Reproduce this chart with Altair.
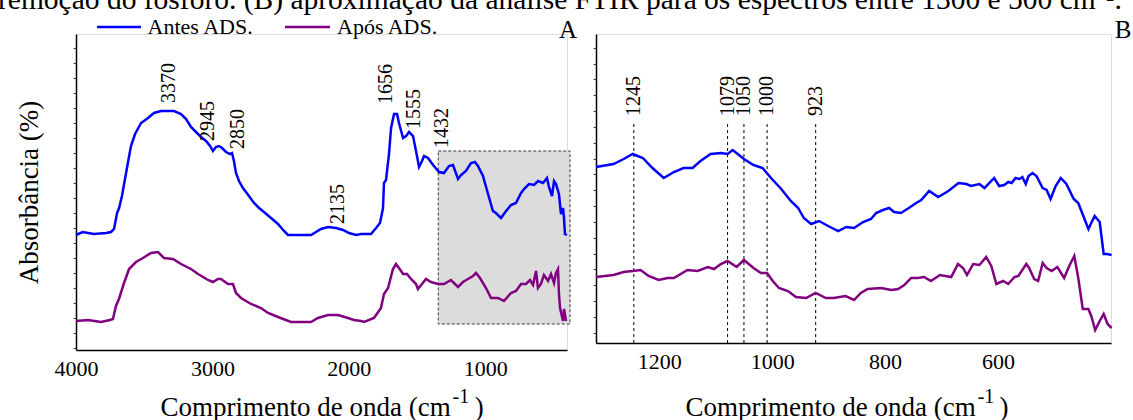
import altair as alt
import pandas as pd

FONT = "Liberation Serif"
BLUE = "#0000ff"
PURPLE = "#800080"
SERIES = ["Antes ADS.", "Após ADS."]
COLORS = [BLUE, PURPLE]

# ---------------- Panel A (4000-400 cm-1) ----------------
a_wn_antes = [4000, 3951, 3868, 3780, 3743, 3721, 3699, 3684, 3663, 3633, 3597, 3567, 3523, 3472,
              3428, 3377, 3281, 3230, 3193, 3157, 3120, 3083, 3047, 3017, 2996, 2974, 2951, 2929,
              2900, 2871, 2856, 2842, 2827, 2805, 2776, 2732, 2695, 2658, 2622, 2570, 2519, 2475,
              2446, 2350, 2277, 2240, 2204, 2152, 2094, 2042, 1998, 1947, 1910, 1837, 1800, 1771,
              1749, 1742, 1727, 1705, 1690, 1668, 1646, 1632, 1602, 1580, 1558, 1529, 1507, 1485,
              1470, 1448, 1419, 1382, 1338, 1302, 1265, 1236, 1199, 1177, 1141, 1104, 1075, 1053,
              1016, 979, 943, 921, 884, 847, 811, 774, 737, 715, 679, 642, 613, 576, 547, 532, 510,
              495, 481, 459, 444, 429, 422, 415, 400]
a_abs_antes = [115, 118, 116, 117, 118, 121, 137, 142, 154, 177, 204, 216, 227, 232,
               237, 239, 239, 236, 231, 223, 218, 213, 209, 204, 199, 203, 204, 202,
               198, 196, 197, 189, 177, 169, 162, 154, 147, 142, 138, 132, 126, 119,
               115, 115, 115, 118, 121, 123, 122, 120, 117, 115, 116, 116, 122, 127,
               142, 167, 170, 196, 222, 236, 236, 227, 212, 214, 218, 214, 199, 183,
               187, 194, 192, 185, 178, 177, 184, 185, 171, 175, 179, 187, 188, 184,
               174, 156, 139, 137, 132, 139, 145, 147, 157, 161, 166, 165, 169, 167, 172, 163, 154,
               169, 166, 156, 136, 142, 132, 116, 115]

a_wn_apos = [4000, 3912, 3817, 3751, 3729, 3707, 3685, 3648, 3611, 3560, 3509, 3450, 3399, 3355,
             3289, 3230, 3157, 3105, 3032, 2996, 2959, 2937, 2886, 2849, 2827, 2790, 2717, 2644,
             2592, 2519, 2424, 2277, 2226, 2152, 2079, 2006, 1962, 1910, 1888, 1815, 1764, 1742,
             1712, 1676, 1654, 1632, 1602, 1573, 1544, 1507, 1493, 1463, 1434, 1397, 1346, 1302,
             1251, 1199, 1163, 1126, 1089, 1067, 1038, 994, 957, 906, 862, 811, 774, 737, 701,
             671, 649, 627, 613, 591, 569, 539, 517, 495, 481, 466, 459, 451, 429, 422, 407]
a_abs_apos = [29, 30, 28, 30, 31, 44, 51, 67, 81, 88, 92, 97, 98, 92,
              91, 86, 81, 76, 70, 68, 71, 71, 66, 66, 57, 52, 46, 42,
              37, 33, 28, 28, 32, 35, 35, 32, 30, 29, 28, 32, 42, 56,
              62, 81, 86, 82, 76, 76, 71, 66, 61, 66, 71, 68, 66, 66,
              70, 63, 68, 71, 74, 77, 72, 62, 52, 52, 49, 57, 59, 66, 66,
              70, 65, 79, 62, 66, 75, 69, 76, 67, 77, 81, 56, 42, 29, 41, 29]

a_peak_text = ["3370", "2945", "2850", "2135", "1656", "1555", "1432"]
a_peak_wn = [3318, 3032, 2812, 2079, 1727, 1522, 1317]
a_peak_abs = [247, 209, 201, 126, 246, 221, 202]

a_box = {"x1": [1344], "x2": [378], "y1": [26], "y2": [199]}
a_xticks = [4000, 3000, 2000, 1000]

# ---------------- Panel B (1312-400 cm-1) ----------------
b_wn_antes = [1312, 1281, 1263, 1247, 1229, 1212, 1192, 1174, 1157, 1141, 1127, 1109, 1091, 1079,
              1070, 1061, 1050, 1033, 1017, 1002, 984, 967, 954, 944, 931, 917, 901, 883, 869, 855,
              839, 825, 816, 804, 793, 784, 772, 758, 745, 736, 722, 706, 688, 670, 656, 648, 633,
              624, 607, 598, 589, 582, 576, 569, 562, 557, 551, 546, 539, 532, 521, 514, 507, 498,
              489, 479, 466, 458, 449, 440, 435, 429, 420, 413, 407, 399]
b_abs_antes = [176, 179, 184, 189, 185, 175, 165, 171, 175, 175, 182, 189, 190, 189,
               193, 189, 184, 178, 175, 165, 154, 142, 135, 125, 119, 122, 117, 112, 116, 115,
               121, 124, 130, 133, 135, 131, 130, 135, 140, 143, 152, 146, 152, 160, 159, 157, 159,
               155, 165, 157, 158, 161, 160, 165, 164, 166, 159, 167, 170, 167, 155, 153, 144, 157,
               165, 159, 144, 140, 127, 114, 120, 127, 121, 89, 89, 88]

b_wn_apos = [1312, 1281, 1263, 1247, 1233, 1219, 1201, 1185, 1174, 1162, 1150, 1132, 1114, 1103,
             1091, 1079, 1063, 1050, 1033, 1020, 1009, 999, 988, 972, 958, 940, 923, 905, 891, 870,
             855, 843, 831, 807, 789, 777, 766, 754, 742, 731, 719, 703, 683, 671, 662, 655, 644,
             633, 621, 612, 603, 591, 582, 571, 564, 550, 545, 536, 529, 521, 514, 505, 495, 483,
             474, 465, 458, 450, 440, 435, 428, 420, 413, 406, 399]
b_abs_apos = [66, 68, 71, 72, 73, 67, 63, 65, 65, 69, 73, 72, 76, 74,
              79, 82, 76, 83, 75, 70, 70, 62, 55, 52, 46, 45, 50, 45, 45, 47,
              43, 50, 54, 55, 53, 54, 58, 65, 65, 66, 62, 68, 66, 79, 75, 68, 79,
              78, 86, 77, 59, 62, 59, 66, 67, 79, 75, 64, 62, 80, 75, 72, 76, 65,
              77, 87, 65, 34, 34, 27, 13, 22, 29, 19, 15]

b_mark_text = ["1245", "1079", "1050", "1000", "923"]
b_mark_wn = [1245, 1079, 1050, 1009, 923]
b_xticks = [1200, 1000, 800, 600]

WA, HA = 491, 316
WB, HB = 515, 309


def series_frame(wn, ab, name):
    return pd.DataFrame({"wn": wn, "abs": ab, "serie": name})


dfA = pd.concat([series_frame(a_wn_antes, a_abs_antes, SERIES[0]),
                 series_frame(a_wn_apos, a_abs_apos, SERIES[1])])
dfB = pd.concat([series_frame(b_wn_antes, b_abs_antes, SERIES[0]),
                 series_frame(b_wn_apos, b_abs_apos, SERIES[1])])

color = alt.Color("serie:N", scale=alt.Scale(domain=SERIES, range=COLORS), legend=None)
one = pd.DataFrame({"k": [0]})


def x_axis(vals):
    return alt.Axis(values=vals, title=None, format="d", labelFont=FONT, labelFontSize=22,
                    labelColor="black", ticks=False, labelPadding=8, labelFlush=False,
                    domainColor="black", domainWidth=1.5, grid=False)


def y_axis(vals, title):
    kw = dict(values=vals, labels=False, ticks=True, tickSize=3, tickColor="#444", tickWidth=1,
              domainColor="black", domainWidth=1.5, grid=False)
    if title:
        kw.update(title=title, titleFont=FONT, titleFontSize=27, titleFontWeight="normal",
                  titleColor="black", titlePadding=29)
    else:
        kw.update(title=None)
    return alt.Axis(**kw)


# ---- panel A encodings ----
sxA = alt.Scale(domain=[4000, 400], nice=False, zero=False)
syA = alt.Scale(domain=[0, HA], nice=False, zero=False)
axA = x_axis(a_xticks)
ayA = y_axis(list(range(2, HA, 15)), "Absorbância (%)")


def XA(f):
    return alt.X(f, type="quantitative", scale=sxA, axis=axA)


def YA(f):
    return alt.Y(f, type="quantitative", scale=syA, axis=ayA)


boxA = alt.Chart(pd.DataFrame(a_box)).mark_rect(
    fill="#dcdcdc", stroke="#3a3a3a", strokeDash=[3, 2], strokeWidth=1
).encode(x=XA("x1"), x2="x2", y=YA("y1"), y2="y2")

linesA = alt.Chart(dfA).mark_line(strokeWidth=2.5).encode(
    x=XA("wn"), y=YA("abs"), color=color, detail="serie:N")

peaksA = alt.Chart(pd.DataFrame({"wn": a_peak_wn, "abs": a_peak_abs, "t": a_peak_text})).mark_text(
    angle=270, align="left", baseline="middle", font=FONT, fontSize=20, color="black"
).encode(x=XA("wn"), y=YA("abs"), text="t:N")


def txt(s, x, y, size, align="left", col="black", baseline="alphabetic"):
    return alt.Chart(one).mark_text(text=s, align=align, baseline=baseline, font=FONT,
                                    fontSize=size, color=col).encode(
        x=alt.value(x), y=alt.value(y))


def leg_rule(x1, x2, y, col):
    return alt.Chart(one).mark_rule(color=col, strokeWidth=2.5).encode(
        x=alt.value(x1), x2=alt.value(x2), y=alt.value(y))


caption = txt("remoção do fósforo. (B) aproximação da análise FTIR para os espectros entre 1300 e 500 cm⁻¹.",
              -78, -25, 29.5)

legendA = [
    leg_rule(21, 65, -7, BLUE), txt(SERIES[0], 71.6, -0.5, 22),
    leg_rule(209, 254, -7, PURPLE), txt(SERIES[1], 261, -0.5, 22),
]

titleA = [
    txt("Comprimento de onda (cm", 374.7, 382, 27, align="right"),
    txt("-1", 376.5, 369, 20),
    txt(")", 398.8, 382, 27),
]

panelA = alt.layer(
    boxA, linesA, peaksA, caption, *legendA, txt("A", 492, 4, 25, align="center"), *titleA
).properties(width=WA, height=HA)

# ---- panel B encodings ----
sxB = alt.Scale(domain=[1312, 400], nice=False, zero=False)
syB = alt.Scale(domain=[0, HB], nice=False, zero=False)
axB = x_axis(b_xticks)
ayB = y_axis([round(10.3 + 15.83 * k, 1) for k in range(19)], None)


def XB(f):
    return alt.X(f, type="quantitative", scale=sxB, axis=axB)


def YB(f):
    return alt.Y(f, type="quantitative", scale=syB, axis=ayB)


marksB = pd.DataFrame({"wn": b_mark_wn, "y0": [0] * len(b_mark_wn), "y1": [219] * len(b_mark_wn),
                       "ylab": [227] * len(b_mark_wn), "t": b_mark_text})

rulesB = alt.Chart(marksB).mark_rule(color="black", strokeWidth=1, strokeDash=[3, 3]).encode(
    x=XB("wn"), y=YB("y0"), y2="y1")

labelsB = alt.Chart(marksB).mark_text(
    angle=270, align="left", baseline="middle", font=FONT, fontSize=20, color="black"
).encode(x=XB("wn"), y=YB("ylab"), text="t:N")

linesB = alt.Chart(dfB).mark_line(strokeWidth=2.5).encode(
    x=XB("wn"), y=YB("abs"), color=color, detail="serie:N")

titleB = [
    txt("Comprimento de onda (cm", 379.8, 382, 27, align="right"),
    txt("-1", 381.7, 369, 20),
    txt(")", 403.6, 382, 27),
]

panelB = alt.layer(
    rulesB, labelsB, linesB, txt("B", 527, 4, 25, align="center"), *titleB
).properties(width=WB, height=HB)

chart = alt.hconcat(panelA, panelB, spacing=29, bounds="flush").properties(
    padding={"top": -16, "left": -3, "right": 0, "bottom": 0}
).configure_view(stroke=None).configure(font=FONT)

chart.save("out.html", embed_options={"renderer": "svg", "actions": False})
